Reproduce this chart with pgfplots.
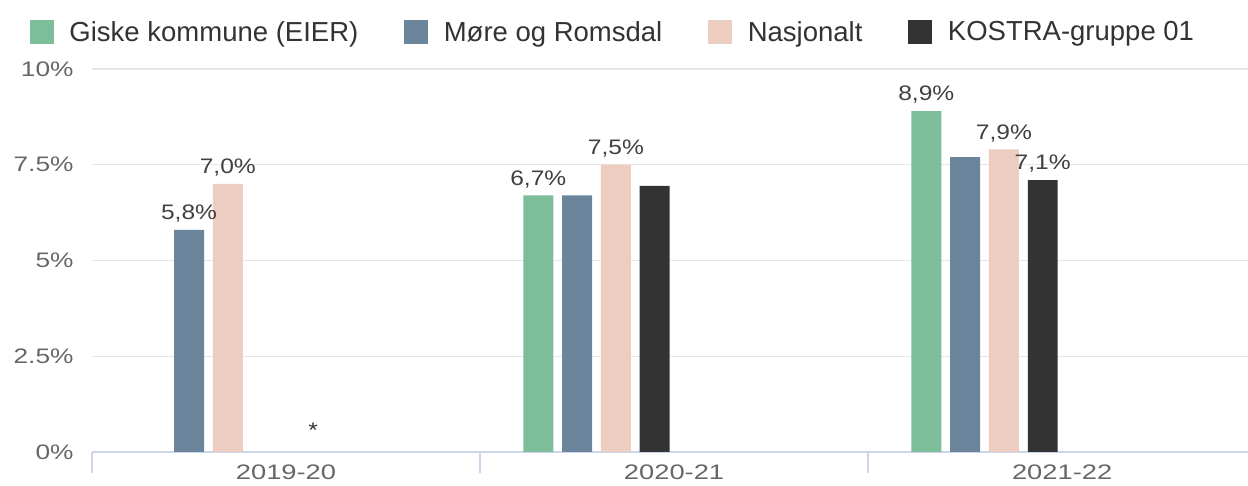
\documentclass[border=0pt]{standalone}
\usepackage{fontspec}
\setmainfont{Liberation Sans}
\newfontfamily\lfontfam{Liberation Sans}
\newfontfamily\xfontfam{Liberation Sans}[FakeStretch=1.3]
\newfontfamily\yfontfam{Liberation Sans}[FakeStretch=1.25]
\newfontfamily\dfontfam{Liberation Sans}[FakeStretch=1.17]
\usepackage{pgfplots}
\pgfplotsset{compat=1.18}
\definecolor{giske}{HTML}{7CBE9A}
\definecolor{more}{HTML}{6B869C}
\definecolor{nasj}{HTML}{EDCDBF}
\definecolor{kostra}{HTML}{333333}
\definecolor{gridc}{HTML}{E6E6E6}
\definecolor{axisc}{HTML}{CCD6EB}
\definecolor{tickc}{HTML}{666666}
\definecolor{labc}{HTML}{404040}
\newcommand\lfont{\lfontfam\fontsize{27.5bp}{30bp}\selectfont}
\newcommand\xfont{\xfontfam\fontsize{21bp}{25bp}\selectfont}
\newcommand\yfont{\yfontfam\fontsize{21bp}{25bp}\selectfont}
\newcommand\dfont{\dfontfam\fontsize{21bp}{25bp}\selectfont}
\begin{document}
\begin{tikzpicture}
\path[use as bounding box] (0,0) rectangle (1248bp,486bp);
\begin{axis}[
  at={(92bp,34bp)}, anchor=south west,
  scale only axis, width=1156bp, height=383bp,
  xmin=-0.5, xmax=2.479, ymin=0, ymax=10,
  ybar, bar width=0.0773,
  axis x line*=bottom, axis y line*=left,
  x axis line style={draw=axisc, line width=1.5bp},
  y axis line style={draw=none},
  xtick={0,1,2}, xticklabels={2019-20,2020-21,2021-22},
  minor xtick={-0.5,0.5,1.5},
  major tick length=0pt, minor tick length=21bp,
  tick align=outside,
  minor tick style={draw=axisc, line width=2.5bp},
  ytick={0,2.5,5,7.5,10}, yticklabels={0\%,2.5\%,5\%,7.5\%,10\%},
  ymajorgrids, grid style={draw=gridc, line width=1.2bp},
  xticklabel style={font=\xfont, text=tickc, yshift=-9bp},
  yticklabel style={font=\yfont, text=tickc, xshift=-15bp},
  point meta=explicit symbolic,
  nodes near coords,
  nodes near coords style={font=\dfont, text=labc, anchor=south, yshift=4bp},
  legend columns=4,
  legend image code/.code={\fill[#1] (0bp,-12bp) rectangle (24bp,12bp);},
  legend style={draw=none, fill=none, at={(0.4507,1.0966)}, anchor=center,
    font=\lfont, text=kostra,
    /tikz/every odd column/.append style={column sep=13.5bp},
    /tikz/every even column/.append style={column sep=44bp}},
]
\addplot[fill=giske, draw=none, bar shift=-0.35] table[x=x, y=y, meta=lab] {
x y lab
1 6.7 {6,7\%}
2 8.9 {8,9\%}
};
\addlegendentry{Giske kommune (EIER)}
\addplot[fill=more, draw=none, bar shift=-0.25] table[x=x, y=y, meta=lab] {
x y lab
0 5.8 {5,8\%}
1 6.7 {}
2 7.7 {}
};
\addlegendentry{Møre og Romsdal}
\addplot[fill=nasj, draw=none, bar shift=-0.15] table[x=x, y=y, meta=lab] {
x y lab
0 7.0 {7,0\%}
1 7.5 {7,5\%}
2 7.9 {7,9\%}
};
\addlegendentry{Nasjonalt}
\addplot[fill=kostra, draw=none, bar shift=-0.05] table[x=x, y=y, meta=lab] {
x y lab
1 6.95 {}
2 7.1 {7,1\%}
};
\addlegendentry{KOSTRA-gruppe 01}
\node[font=\dfont, text=kostra, anchor=base] at (axis cs:0.07,0.38) {*};
\end{axis}
\end{tikzpicture}
\end{document}
